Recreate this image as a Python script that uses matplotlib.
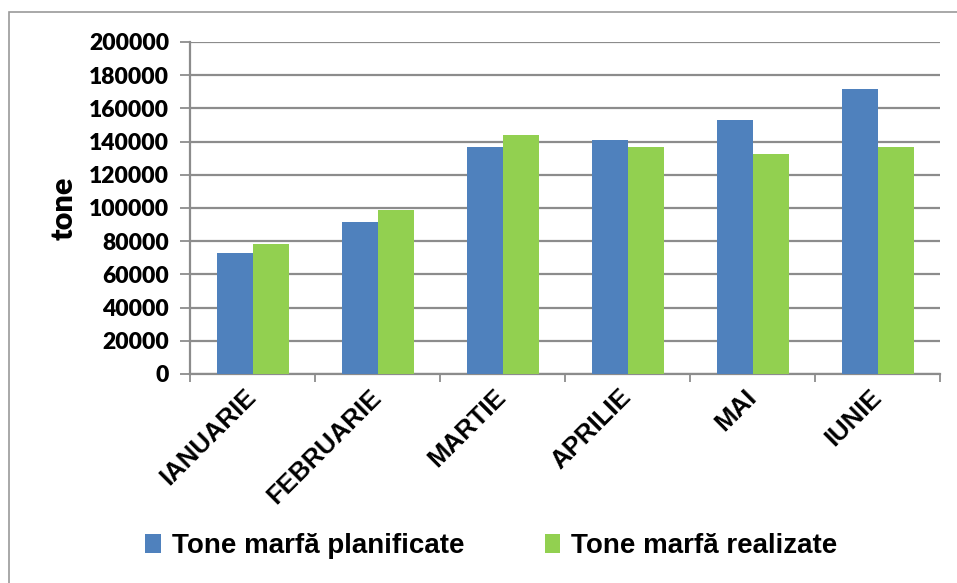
import matplotlib.pyplot as plt
import numpy as np
from matplotlib.patches import Rectangle

months = ["IANUARIE", "FEBRUARIE", "MARTIE", "APRILIE", "MAI", "IUNIE"]
planned = [73000, 91800, 136800, 140700, 152800, 171600]
realized = [78600, 98500, 143700, 137000, 132800, 136800]
series_names = ["Tone marfă planificate", "Tone marfă realizate"]
yticks = np.arange(0, 200001, 20000)

blue = '#4f81bd'
green = '#92d050'
grid_col = '#8c8c8c'

fig = plt.figure(figsize=(9.57, 5.83), dpi=100)
W, H = 957, 583
ax = fig.add_axes([190 / W, 1 - 374 / H, 750 / W, 332 / H])

# outer chart frame (cut off at right and bottom like the reference)
fig.patches.append(Rectangle((9 / W, -0.1), 1.2, 1 - 12 / H + 0.1,
                             transform=fig.transFigure, fill=False,
                             edgecolor='#9a9a9a', linewidth=1.2))

index = np.arange(len(months))
bw = 0.288
ax.bar(index - bw / 2, planned, bw, color=blue, label=series_names[0], zorder=3)
ax.bar(index + bw / 2, realized, bw, color=green, label=series_names[1], zorder=3)

ax.set_xlim(-0.5, len(months) - 0.5)
ax.set_ylim(0, 200000)
ax.set_yticks(yticks)
ax.set_yticklabels([str(v) for v in yticks], fontsize=16.5, fontweight='heavy',
                   family='Lato')
ax.yaxis.grid(True, color=grid_col, linewidth=1.6, zorder=0)
ax.tick_params(axis='y', length=7, width=1.3, color=grid_col, pad=8)

ax.set_xticks(index)
ax.set_xticklabels(months, rotation=45, ha='right', va='center',
                   rotation_mode='anchor', fontsize=18.5, fontweight='bold',
                   family='Liberation Sans')
ax.tick_params(axis='x', length=0, pad=14)
ax.set_xticks(np.arange(-0.5, len(months)), minor=True)
ax.tick_params(axis='x', which='minor', length=6, width=1.3, color=grid_col)

for s in ['top', 'right']:
    ax.spines[s].set_visible(False)
for s in ['left', 'bottom']:
    ax.spines[s].set_color(grid_col)
    ax.spines[s].set_linewidth(1.6)

ax.set_ylabel("tone", fontsize=22, fontweight='heavy', family='Lato',
              labelpad=8)

fig.legend(loc='lower center', bbox_to_anchor=(0.5136, -0.002), ncol=2,
           frameon=False, handlelength=0.55, handleheight=0.7,
           columnspacing=2.9, handletextpad=0.4,
           prop={'family': ['Liberation Sans Narrow', 'Liberation Sans'],
                 'weight': 'bold', 'size': 20})

plt.savefig('out.png', dpi=100)
